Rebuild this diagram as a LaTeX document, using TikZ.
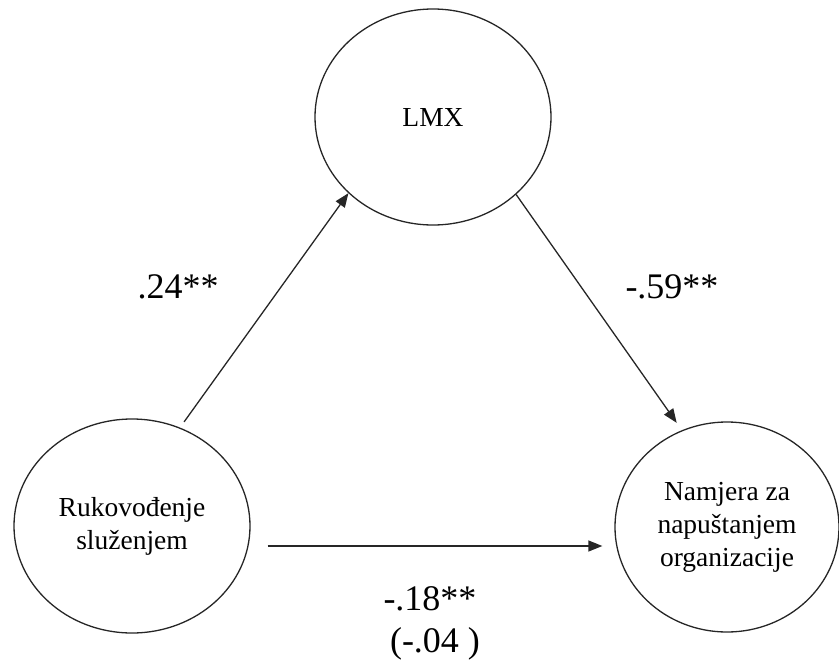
\documentclass[tikz,border=0pt]{standalone}
\usepackage{fontspec}
\setmainfont{Liberation Serif}
\usetikzlibrary{shapes.geometric,arrows.meta}
\tikzset{
  var/.style={draw=black!85, line width=1.3pt, ellipse, inner sep=0pt, align=center,
    font=\fontsize{27.5}{33}\selectfont},
  coef/.style={font=\fontsize{36}{40}\selectfont, anchor=base, inner sep=0pt},
  path arrow/.style={draw=black!85, line width=1.3pt, -{Triangle[length=14pt,width=11pt]}}
}
\begin{document}
\begin{tikzpicture}[x=1pt,y=-1pt]
\useasboundingbox (0,0) rectangle (839,664);
\node[var, minimum width=236pt, minimum height=216pt] (lmx) at (433,117) {LMX};
\node[var, minimum width=236pt, minimum height=214pt] (rs) at (132,526) {Rukovođenje\\služenjem};
\node[var, minimum width=224pt, minimum height=210pt] (nz) at (727,527) {Namjera za\\napuštanjem\\organizacije};
\draw[path arrow, shorten <=7pt] (rs.64) -- (lmx.222);
\draw[path arrow, shorten >=9pt] (lmx.317) -- (nz.115);
\draw[path arrow, shorten <=17pt, shorten >=12pt] ([yshift=-20pt]rs.east) -- ([yshift=-19pt]nz.west);
\node[coef] (a) at (178,298) {.24**};
\node[coef] (b) at (672,298) {-.59**};
\node[coef] (c) at (430,610) {-.18**};
\node[coef] (d) at (435,652) {(-.04 )};
\end{tikzpicture}
\end{document}
